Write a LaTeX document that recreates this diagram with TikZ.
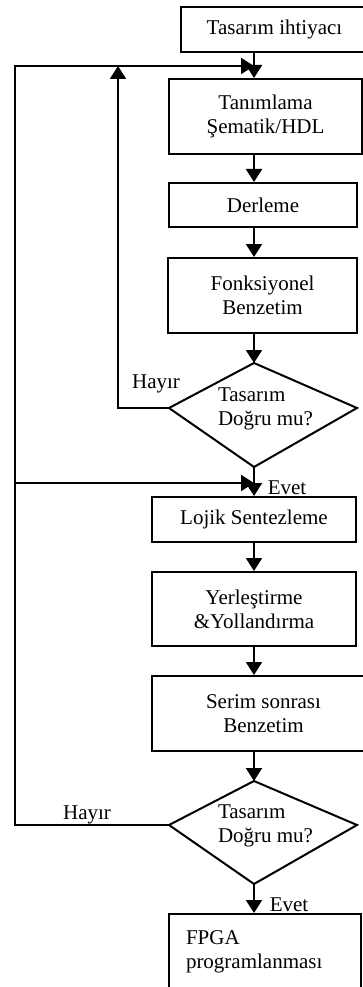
\documentclass[tikz,border=0pt]{standalone}
\usepackage{fontspec}
\setmainfont{Liberation Serif}
\usetikzlibrary{arrows.meta}

\begin{document}
\begin{tikzpicture}[x=1pt, y=-1pt, line width=2pt,
  every node/.style={font=\fontsize{21}{24}\selectfont},
  box/.style={draw, rectangle, align=center, inner sep=0pt},
  flow/.style={-{Triangle[length=13pt, width=16pt]}}]

\useasboundingbox (0,0) rectangle (363,987);
\clip (0,0) rectangle (363,987);

% Upper part
\node[box, minimum width=187pt, minimum height=45pt] (ihtiyac) at (274.5,29.5) {Tasarım ihtiyacı};
\node[box, minimum width=193pt, minimum height=75pt] (tanim) at (265.5,116.5) {Tanımlama\\Şematik/HDL};
\node[box, minimum width=188pt, minimum height=44pt] (derle) at (263,205) {Derleme};
\node[box, minimum width=189pt, minimum height=75pt] (fonk) at (262.5,295.5) {Fonksiyonel\\Benzetim};

\coordinate (d1t) at (254,363);
\coordinate (d1r) at (357,408);
\coordinate (d1b) at (254,467);
\coordinate (d1l) at (169,408);
\draw (d1t) -- (d1r) -- (d1b) -- (d1l) -- cycle;
\node[anchor=west, align=left, inner sep=0pt] (q1) at (217,409) {Tasarım\\Doğru mu?};

% Lower part
\node[box, minimum width=204pt, minimum height=45pt] (lojik) at (254,519.5) {Lojik Sentezleme};
\node[box, minimum width=204pt, minimum height=74pt] (yerles) at (254,609) {Yerleştirme\\\&Yollandırma};
\node[box, minimum width=223pt, minimum height=75pt] (serim) at (263.5,713.5) {Serim sonrası\\Benzetim};

\coordinate (d2t) at (254,781);
\coordinate (d2r) at (357,825);
\coordinate (d2b) at (254,884);
\coordinate (d2l) at (169,825);
\draw (d2t) -- (d2r) -- (d2b) -- (d2l) -- cycle;
\node[anchor=west, align=left, inner sep=0pt] (q2) at (217,826) {Tasarım\\Doğru mu?};

\node[box, anchor=north west, minimum width=192pt, text width=158pt, align=left,
  text height=30pt, text depth=60pt] (fpga) at (168,913) {FPGA\\programlanması};

% Labels
\node (no1) at (156,384) {Hayır};
\node (no2) at (87,815) {Hayır};
\node (yes1) at (287,488) {Evet};
\node (yes2) at (289,905) {Evet};

% Main flow
\coordinate (join1) at (254,66);
\coordinate (join2) at (254,483);
\draw[flow] (ihtiyac.south -| join1) -- (tanim.north -| join1);
\draw[flow] (tanim.south -| join1) -- (derle.north -| join1);
\draw[flow] (derle.south -| join1) -- (fonk.north -| join1);
\draw[flow] (fonk.south -| join1) -- (d1t);
\draw[flow] (d1b) -- (lojik.north -| join1);
\draw[flow] (lojik.south -| join1) -- (yerles.north -| join1);
\draw[flow] (yerles.south -| join1) -- (serim.north -| join1);
\draw[flow] (serim.south -| join1) -- (d2t);
\draw[flow] (d2b) -- (fpga.north -| join1);

% Feedback loops
\coordinate (c1) at (118,408);
\coordinate (c1up) at (118,66);
\coordinate (c2) at (15,825);
\coordinate (c2up) at (15,66);
\coordinate (c2mid) at (15,483);
\draw[flow] (d1l) -- (c1) -- (c1up);
\draw[flow] (d2l) -- (c2) -- (c2up) -- (join1);
\draw[flow] (c2mid) -- (join2);

\end{tikzpicture}
\end{document}
